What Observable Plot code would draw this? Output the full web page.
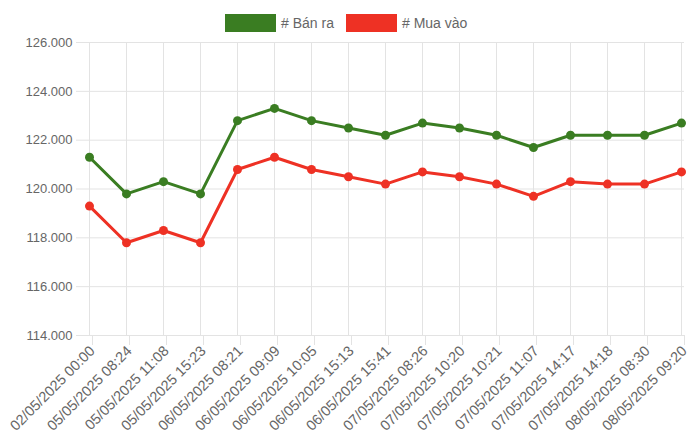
<!DOCTYPE html>
<html>
<head>
<meta charset="utf-8">
<script src="https://cdn.jsdelivr.net/npm/d3@7"></script>
<script src="https://cdn.jsdelivr.net/npm/@observablehq/plot@0.6"></script>
<style>
  html, body { margin: 0; padding: 0; background: #fff; }
  body { width: 700px; height: 446px; overflow: hidden; font-family: "Liberation Sans", Arial, Helvetica, sans-serif; }
  #legend { height: 36px; position: relative; }
  .item { position: absolute; top: 14px; height: 18px; display: flex; align-items: center; color: #666; font-size: 14px; }
  .box { width: 51px; height: 18px; margin-right: 5px; box-sizing: border-box; }
  svg { display: block; }
</style>
</head>
<body>
<div id="legend"></div>
<div id="chart"></div>
<script>
const labels = [
  "02/05/2025 00:00", "05/05/2025 08:24", "05/05/2025 11:08", "05/05/2025 15:23",
  "06/05/2025 08:21", "06/05/2025 09:09", "06/05/2025 10:05", "06/05/2025 15:13",
  "06/05/2025 15:41", "07/05/2025 08:26", "07/05/2025 10:20", "07/05/2025 10:21",
  "07/05/2025 11:07", "07/05/2025 14:17", "07/05/2025 14:18", "08/05/2025 08:30",
  "08/05/2025 09:20"
];
const banRa = [121300, 119800, 120300, 119800, 122800, 123300, 122800, 122500, 122200, 122700, 122500, 122200, 121700, 122200, 122200, 122200, 122700];
const muaVao = [119300, 117800, 118300, 117800, 120800, 121300, 120800, 120500, 120200, 120700, 120500, 120200, 119700, 120300, 120200, 120200, 120700];
const seriesNames = ["# Bán ra", "# Mua vào"];
const seriesColors = ["#3a7d22", "#ee3124"];
const yTicks = [114000, 116000, 118000, 120000, 122000, 124000, 126000];

const data = labels.flatMap((t, i) => [
  {t, v: banRa[i], s: seriesNames[0]},
  {t, v: muaVao[i], s: seriesNames[1]}
]);

// legend
const legend = document.getElementById("legend");
const lefts = [225, 346];
seriesNames.forEach((n, i) => {
  const it = document.createElement("div");
  it.className = "item";
  it.style.left = lefts[i] + "px";
  const b = document.createElement("div");
  b.className = "box";
  b.style.background = seriesColors[i];
  it.appendChild(b);
  const s = document.createElement("span");
  s.textContent = n;
  it.appendChild(s);
  legend.appendChild(it);
});

const fmt = v => d3.format(",")(v).replace(/,/g, ".");
const grid = "#e3e3e3";

const chart = Plot.plot({
  width: 700,
  height: 410,
  marginLeft: 86,
  marginRight: 16,
  marginTop: 6,
  marginBottom: 111,
  style: {fontFamily: '"Liberation Sans", Arial, Helvetica, sans-serif', fontSize: "13px", color: "#666", background: "#fff"},
  x: {type: "point", domain: labels, padding: 0, label: null},
  y: {domain: [114000, 126000], label: null},
  color: {domain: seriesNames, range: seriesColors},
  marks: [
    Plot.gridX({stroke: grid, strokeOpacity: 1}),
    Plot.gridY(yTicks, {stroke: grid, strokeOpacity: 1}),
    Plot.axisX({tickRotate: -45, tickSize: 10, tickPadding: 3, dx: 3, stroke: grid, fill: "#666", fontSize: 14.5, label: null}),
    Plot.axisY(yTicks, {tickSize: 10, tickPadding: 4, tickFormat: fmt, stroke: grid, fill: "#666", label: null}),
    Plot.line(data, {x: "t", y: "v", stroke: "s", strokeWidth: 3}),
    Plot.dot(data, {x: "t", y: "v", fill: "s", r: 4.5})
  ]
});
document.getElementById("chart").appendChild(chart);
</script>
</body>
</html>
